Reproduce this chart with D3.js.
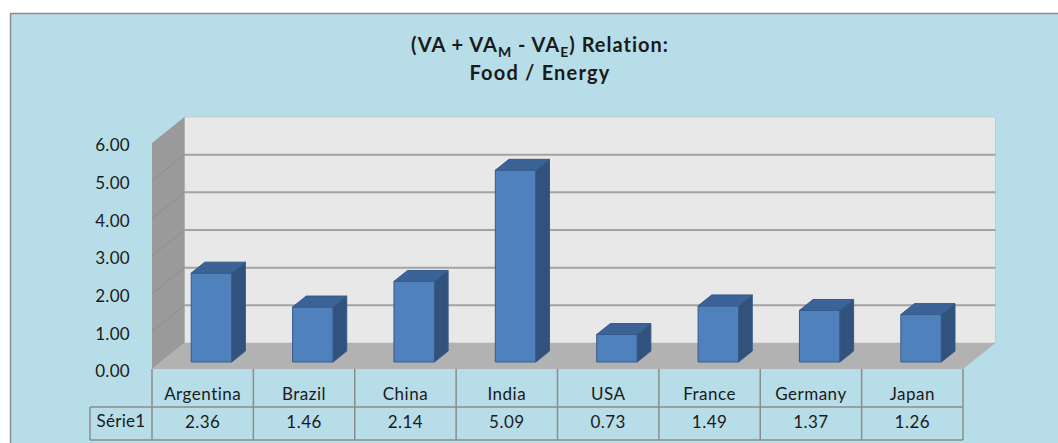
<!DOCTYPE html>
<html>
<head>
<meta charset="utf-8">
<script src="https://cdn.jsdelivr.net/npm/d3@7"></script>
<style>
  body { margin: 0; background: #fff; }
  svg text { font-family: Lato, "Open Sans", sans-serif; fill: #1a1a1a; }
</style>
</head>
<body>
<div id="chart"></div>
<script>
// values
var categories = ["Argentina", "Brazil", "China", "India", "USA", "France", "Germany", "Japan"];
var values = [2.36, 1.46, 2.14, 5.09, 0.73, 1.49, 1.37, 1.26];
var yTicks = [0, 1, 2, 3, 4, 5, 6];
var seriesName = "Série1";

var width = 1058, height = 443;

var svg = d3.select("#chart").append("svg")
  .attr("width", width)
  .attr("height", height);

// chart area
svg.append("rect")
  .attr("x", 10.5).attr("y", 13.5)
  .attr("width", width + 10).attr("height", height + 10)
  .attr("fill", "#b7dde8")
  .attr("stroke", "#8c8c8c")
  .attr("stroke-width", 1.5);

// front plane scales, depth goes back up-right
var x = d3.scaleBand()
  .domain(categories)
  .range([152, 963])
  .paddingInner(0.6)
  .paddingOuter(0.3);

var y = d3.scaleLinear()
  .domain([0, 6])
  .range([369, 143]);

var depth = { dx: 32.5, dy: -26 };

function proj(px, v, z) {
  return [px + z * depth.dx, y(v) + z * depth.dy];
}
function poly(pts) {
  return pts.map(function(p) { return p.join(","); }).join(" ");
}

var x0 = x.range()[0], x1 = x.range()[1];
var yMax = y.domain()[1];

// back wall
svg.append("polygon")
  .attr("points", poly([proj(x0, 0, 1), proj(x1, 0, 1), proj(x1, yMax, 1), proj(x0, yMax, 1)]))
  .attr("fill", "#e8e8e8")
  .attr("stroke", "#c8c8c8")
  .attr("stroke-width", 1);

// left wall
svg.append("polygon")
  .attr("points", poly([proj(x0, 0, 0), proj(x0, 0, 1), proj(x0, yMax, 1), proj(x0, yMax, 0)]))
  .attr("fill", "#9a9a9a");

// gridlines on both walls
var grid = svg.append("g").attr("class", "grid");
grid.selectAll("line.back")
  .data(yTicks.filter(function(d) { return d > 0 && d < 6; }))
  .enter().append("line")
  .attr("class", "back")
  .attr("x1", function(d) { return proj(x0, d, 1)[0]; })
  .attr("y1", function(d) { return proj(x0, d, 1)[1]; })
  .attr("x2", function(d) { return proj(x1, d, 1)[0]; })
  .attr("y2", function(d) { return proj(x1, d, 1)[1]; })
  .attr("stroke", "#a3a3a3")
  .attr("stroke-width", 2);

grid.selectAll("line.side")
  .data(yTicks.filter(function(d) { return d > 0 && d < 6; }))
  .enter().append("line")
  .attr("class", "side")
  .attr("x1", function(d) { return proj(x0, d, 0)[0]; })
  .attr("y1", function(d) { return proj(x0, d, 0)[1]; })
  .attr("x2", function(d) { return proj(x0, d, 1)[0]; })
  .attr("y2", function(d) { return proj(x0, d, 1)[1]; })
  .attr("stroke", "#8e8e8e")
  .attr("stroke-width", 1);

// floor
svg.append("polygon")
  .attr("points", poly([proj(x0, 0, 0), proj(x1, 0, 0), proj(x1, 0, 1), proj(x0, 0, 1)]))
  .attr("fill", "#b2b2b2");

// y axis labels
svg.append("g").selectAll("text")
  .data(yTicks)
  .enter().append("text")
  .attr("x", 130)
  .attr("y", function(d) { return y(d) + 4; })
  .attr("text-anchor", "end")
  .attr("dominant-baseline", "middle")
  .attr("font-size", 17)
  .attr("letter-spacing", 0.3)
  .text(function(d) { return d3.format(".2f")(d); });

// 3d bars
var zFront = 0.27, zBack = 0.69;
var bars = svg.append("g").selectAll("g")
  .data(values)
  .enter().append("g");

bars.append("polygon") // front
  .attr("points", function(d, i) {
    var a = x(categories[i]), b = a + x.bandwidth();
    return poly([proj(a, 0, zFront), proj(b, 0, zFront), proj(b, d, zFront), proj(a, d, zFront)]);
  })
  .attr("fill", "#4f81bd");

bars.append("polygon") // side
  .attr("points", function(d, i) {
    var b = x(categories[i]) + x.bandwidth();
    return poly([proj(b, 0, zFront), proj(b, 0, zBack), proj(b, d, zBack), proj(b, d, zFront)]);
  })
  .attr("fill", "#30527d");

bars.append("polygon") // top
  .attr("points", function(d, i) {
    var a = x(categories[i]), b = a + x.bandwidth();
    return poly([proj(a, d, zFront), proj(b, d, zFront), proj(b, d, zBack), proj(a, d, zBack)]);
  })
  .attr("fill", "#3b6397");

bars.selectAll("polygon")
  .attr("stroke", "#375b89")
  .attr("stroke-width", 1)
  .attr("stroke-linejoin", "round");

// data table under the floor
var rowTop = y(0), rowMid = 407, rowBot = 440, labelLeft = 90;
var table = svg.append("g").attr("class", "table");
var cellLine = function(sel) {
  return sel.attr("stroke", "#8c8c8c").attr("stroke-width", 1.5);
};

var bounds = categories.map(function(c) { return x(c) - x.step() * x.paddingOuter(); });
bounds.push(x1);

table.selectAll("line.v")
  .data(bounds)
  .enter().append("line")
  .attr("class", "v")
  .attr("x1", function(d) { return d; })
  .attr("x2", function(d) { return d; })
  .attr("y1", rowTop)
  .attr("y2", rowBot)
  .call(cellLine);

cellLine(table.append("line")
  .attr("x1", labelLeft).attr("x2", x1)
  .attr("y1", rowMid).attr("y2", rowMid));
cellLine(table.append("line")
  .attr("x1", labelLeft).attr("x2", x1)
  .attr("y1", rowBot).attr("y2", rowBot));
cellLine(table.append("line")
  .attr("x1", labelLeft).attr("x2", labelLeft)
  .attr("y1", rowMid).attr("y2", rowBot));

table.selectAll("text.cat")
  .data(categories)
  .enter().append("text")
  .attr("class", "cat")
  .attr("x", function(d) { return x(d) + x.bandwidth() / 2; })
  .attr("y", 396)
  .attr("text-anchor", "middle")
  .attr("dominant-baseline", "middle")
  .attr("font-size", 17)
  .attr("letter-spacing", 0.5)
  .text(function(d) { return d; });

table.selectAll("text.val")
  .data(values)
  .enter().append("text")
  .attr("class", "val")
  .attr("x", function(d, i) { return x(categories[i]) + x.bandwidth() / 2; })
  .attr("y", 424)
  .attr("text-anchor", "middle")
  .attr("dominant-baseline", "middle")
  .attr("font-size", 17)
  .attr("letter-spacing", 0.5)
  .text(function(d) { return d3.format(".2f")(d); });

table.append("text")
  .attr("x", (labelLeft + x0) / 2)
  .attr("y", 423)
  .attr("text-anchor", "middle")
  .attr("dominant-baseline", "middle")
  .attr("font-size", 17)
  .attr("letter-spacing", 0.3)
  .text(seriesName);

// title with subscripts
var title = svg.append("text")
  .attr("x", 540)
  .attr("y", 52)
  .attr("text-anchor", "middle")
  .attr("font-size", 20)
  .attr("font-weight", "bold")
  .attr("letter-spacing", 1);
title.append("tspan").text("(VA + VA");
title.append("tspan").attr("font-size", 14).attr("dy", 5).text("M");
title.append("tspan").attr("dy", -5).text(" - VA");
title.append("tspan").attr("font-size", 14).attr("dy", 5).text("E");
title.append("tspan").attr("dy", -5).text(") Relation:");

svg.append("text")
  .attr("x", 540)
  .attr("y", 80)
  .attr("text-anchor", "middle")
  .attr("font-size", 20)
  .attr("font-weight", "bold")
  .attr("letter-spacing", 1.2)
  .text("Food / Energy");
</script>
</body>
</html>
